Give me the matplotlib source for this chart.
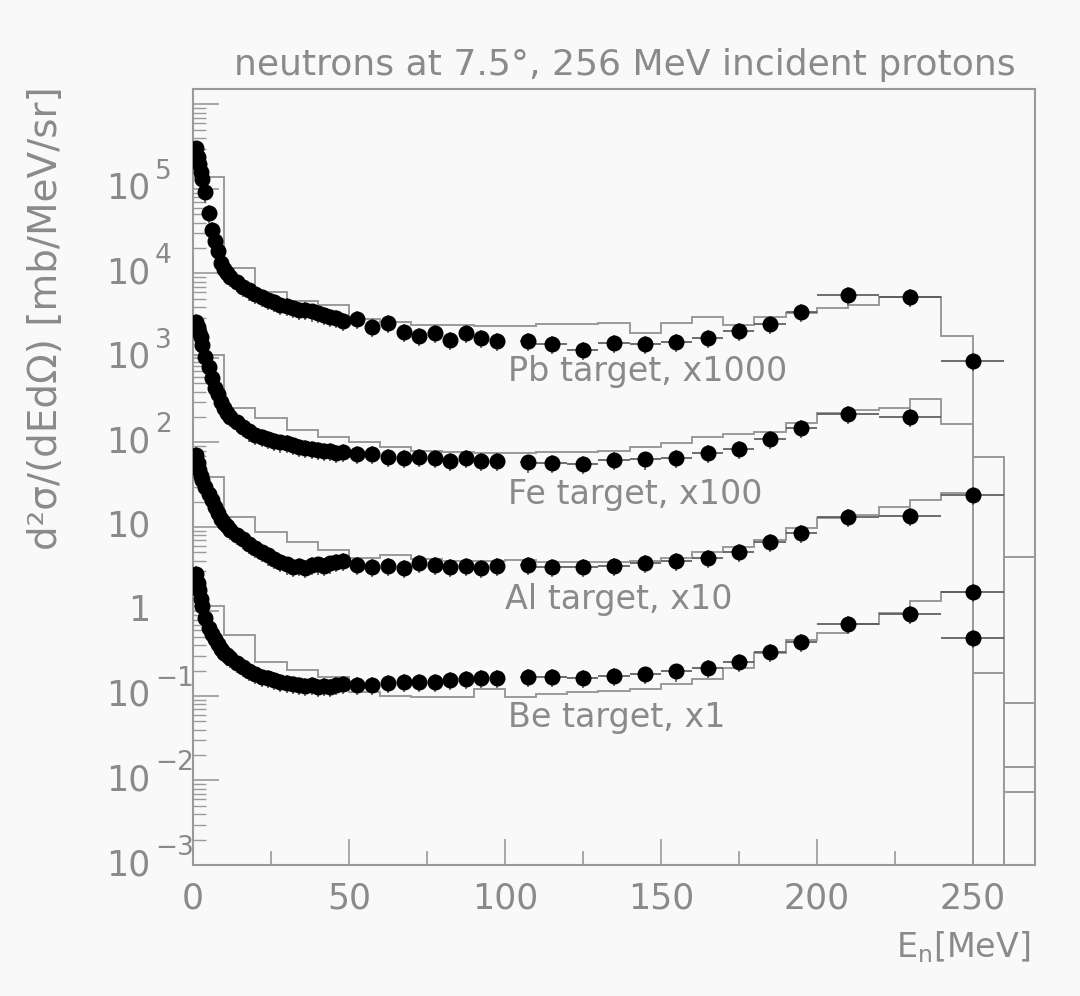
import matplotlib
matplotlib.use("Agg")
import matplotlib.pyplot as plt
import matplotlib.transforms as mtransforms
from matplotlib.ticker import FixedLocator, LogLocator, NullFormatter
import numpy as np

# neutron energies (MeV) of the measured points
e_dense = [1, 1.5, 2, 2.5, 3, 4, 5, 6, 7, 8, 9, 10, 11, 12, 14, 16, 18, 20,
           22, 24, 26, 28, 30, 32, 34, 36, 38, 40, 42, 44, 46, 48]
e_mid = [52.5, 57.5, 62.5, 67.5, 72.5, 77.5, 82.5, 87.5, 92.5, 97.5]
e_high = [107.5, 115, 125, 135, 145, 155, 165, 175, 185, 195, 210, 230, 250]
e_high_halfwidth = [2.5, 5, 5, 5, 5, 5, 5, 5, 5, 5, 10, 10, 10]

# measured cross sections (already scaled: Pb x1000, Fe x100, Al x10, Be x1)
pb_dense = [302000, 240000, 195000, 158000, 132000, 91000, 52500, 33100, 24000,
            18200, 13200, 11200, 10000, 9100, 7900, 6900, 6300, 5750, 5250, 4900,
            4570, 4270, 4170, 3890, 3700, 3700, 3550, 3390, 3240, 3090, 2950, 2750]
pb_mid = [2870, 2345, 2570, 2050, 1820, 1995, 1633, 1960, 1740, 1600]
pb_high = [1600, 1466, 1245, 1517, 1466, 1545, 1710, 2100, 2505, 3475, 5570, 5230, 929]

fe_dense = [2690, 2340, 2040, 1780, 1410, 1020, 776, 575, 447, 372, 302, 257, 224,
            200, 174, 151, 135, 123, 115, 110, 105, 100, 98, 93, 89, 87, 83, 81,
            79, 80, 76, 78]
fe_mid = [73, 73, 68, 65, 67, 65, 61, 65, 61, 61]
fe_high = [58, 57, 56, 62, 63, 65, 74.5, 83, 110, 150, 217, 202, 24]

al_dense = [71, 57.5, 46.8, 39.8, 35.5, 29.5, 24.5, 20.9, 17.4, 14.8, 12.6, 11.2,
            10.2, 9.3, 8.1, 7.2, 6.3, 5.6, 5.1, 4.6, 4.2, 3.9, 3.6, 3.4, 3.45,
            3.3, 3.55, 3.6, 3.5, 3.7, 3.9, 4.0]
al_mid = [3.55, 3.39, 3.45, 3.24, 3.78, 3.55, 3.39, 3.45, 3.3, 3.45]
al_high = [3.55, 3.39, 3.33, 3.45, 3.72, 3.96, 4.27, 5.1, 6.6, 8.4, 13.2, 13.5, 1.7]

be_dense = [2.8, 2.2, 1.78, 1.41, 1.15, 0.83, 0.645, 0.537, 0.468, 0.407, 0.363,
            0.324, 0.302, 0.282, 0.245, 0.219, 0.2, 0.182, 0.17, 0.162, 0.155,
            0.148, 0.141, 0.138, 0.135, 0.132, 0.135, 0.129, 0.132, 0.129, 0.135,
            0.138]
be_mid = [0.135, 0.135, 0.141, 0.148, 0.148, 0.148, 0.155, 0.158, 0.162, 0.162]
be_high = [0.166, 0.166, 0.162, 0.172, 0.18, 0.195, 0.215, 0.255, 0.33, 0.44,
           0.72, 0.93, 0.49]

rel_err = 0.24

# calculation, 10 MeV bins
hist_edges = [0, 10, 20, 30, 40, 50, 60, 70, 80, 90, 100, 110, 120, 130, 140,
              150, 160, 170, 180, 190, 200, 210, 220, 230, 240, 250, 260, 270]
pb_hist = [140000, 11500, 6000, 4700, 4200, 2900, 2700, 2460, 2460, 2400, 2400,
           2520, 2520, 2560, 1960, 2570, 3030, 2460, 3030, 3380, 3875, 4240,
           5320, 5320, 1820, 0, 4.4]
fe_hist = [1085, 254, 193, 141, 117, 102, 88, 80, 78, 76, 76, 78, 78, 80, 89,
           98, 117, 126, 134, 169, 225, 243, 254, 325, 166, 67, 0.083]
al_hist = [39, 13.2, 8.8, 6.7, 5.3, 4.3, 4.7, 4.2, 4.0, 4.0, 4.07, 3.8, 3.9,
           3.9, 4.0, 4.27, 5.0, 5.85, 7.0, 9.6, 12.7, 13.9, 17.4, 20.9, 25,
           0.187, 0.0145]
be_hist = [1.15, 0.53, 0.255, 0.203, 0.17, 0.11, 0.10, 0.098, 0.098, 0.12, 0.098,
           0.105, 0.112, 0.115, 0.12, 0.14, 0.16, 0.213, 0.32, 0.46, 0.55, 0.72,
           0.95, 1.34, 1.71, 0, 0.0073]

series_labels = ["Pb target, x1000", "Fe target, x100", "Al target, x10", "Be target, x1"]
label_pos = [(101, 690), (101, 24), (100, 1.37), (101, 0.055)]

decades = [-3, -2, -1, 0, 1, 2, 3, 4, 5]
x_major = [0, 50, 100, 150, 200, 250]
x_minor = [25, 75, 125, 175, 225]

BG = "#f9f9f9"
GREY = "#9a9a9a"
TEXT = "#8a8a8a"

fig = plt.figure(figsize=(10.8, 9.96), dpi=100, facecolor=BG)
ax = fig.add_axes([193 / 1080, 131 / 996, 842 / 1080, 776 / 996])
ax.set_facecolor(BG)
ax.set_yscale("log")
ax.set_xlim(0, 270)
ax.set_ylim(1e-3, 10 ** 6.183)

for h in (pb_hist, fe_hist, al_hist, be_hist):
    ax.stairs(h, hist_edges, baseline=None, color=GREY, lw=1.4, zorder=2)

groups = [(pb_dense, pb_mid, pb_high), (fe_dense, fe_mid, fe_high),
          (al_dense, al_mid, al_high), (be_dense, be_mid, be_high)]
x_all = e_dense + e_mid + e_high
xerr_all = [0] * (len(e_dense) + len(e_mid)) + e_high_halfwidth
for dense, mid, high in groups:
    y = np.array(dense + mid + high, dtype=float)
    ax.errorbar(x_all, y, yerr=rel_err * y, xerr=xerr_all, fmt="o", ms=10.5,
                mfc="black", mec="black", ecolor="#555555", elinewidth=1.2,
                capsize=0, zorder=3)

for text, (xp, yp) in zip(series_labels, label_pos):
    ax.text(xp, yp, text, fontsize=24, color=TEXT, ha="left", va="center")

for s in ax.spines.values():
    s.set_color(GREY)
    s.set_linewidth(1.5)

ax.xaxis.set_major_locator(FixedLocator(x_major))
ax.xaxis.set_minor_locator(FixedLocator(x_minor))
ax.tick_params(axis="x", which="major", direction="in", length=19, width=1.2,
               color=GREY, labelcolor=TEXT, labelsize=25, pad=12)
ax.tick_params(axis="x", which="minor", direction="in", length=10, width=1.2,
               color=GREY)
ax.yaxis.set_major_locator(LogLocator(base=10, numticks=30))
ax.yaxis.set_minor_locator(LogLocator(base=10, subs=np.arange(2, 10), numticks=30))
ax.yaxis.set_major_formatter(NullFormatter())
ax.yaxis.set_minor_formatter(NullFormatter())
ax.tick_params(axis="y", which="major", direction="in", length=19, width=1.2,
               color=GREY)
ax.tick_params(axis="y", which="minor", direction="in", length=9, width=1.0,
               color=GREY)

# ROOT-style decade labels: base "10" right aligned, exponent hanging out
trans = mtransforms.blended_transform_factory(fig.transFigure, ax.transData)
sup_trans = mtransforms.offset_copy(trans, fig=fig, x=0, y=17, units="dots")
for d in decades:
    if d == 0:
        ax.text(150 / 1080, 10.0 ** d, "1", transform=trans, fontsize=25,
                color=TEXT, ha="right", va="center")
        continue
    ax.text(150 / 1080, 10.0 ** d, "10", transform=trans, fontsize=25,
            color=TEXT, ha="right", va="center")
    if d != 1:
        exp = str(d).replace("-", "\u2212")
        ax.text(155 / 1080, 10.0 ** d, exp, transform=sup_trans, fontsize=19,
                color=TEXT, ha="left", va="center")

fig.text(625 / 1080, 1 - 65 / 996, "neutrons at 7.5\u00b0, 256 MeV incident protons",
         fontsize=26, color=TEXT, ha="center", va="center")
fig.text(46 / 1080, 1 - 86 / 996, "d\u00b2\u03c3/(dEd\u03a9) [mb/MeV/sr]",
         fontsize=28, color=TEXT, rotation=90, ha="center", va="top")
fig.text(1030 / 1080, 1 - 947 / 996, r"E$_\mathregular{n}$[MeV]", fontsize=24,
         color=TEXT, ha="right", va="center")

fig.savefig("out.png", dpi=100, facecolor=BG)
